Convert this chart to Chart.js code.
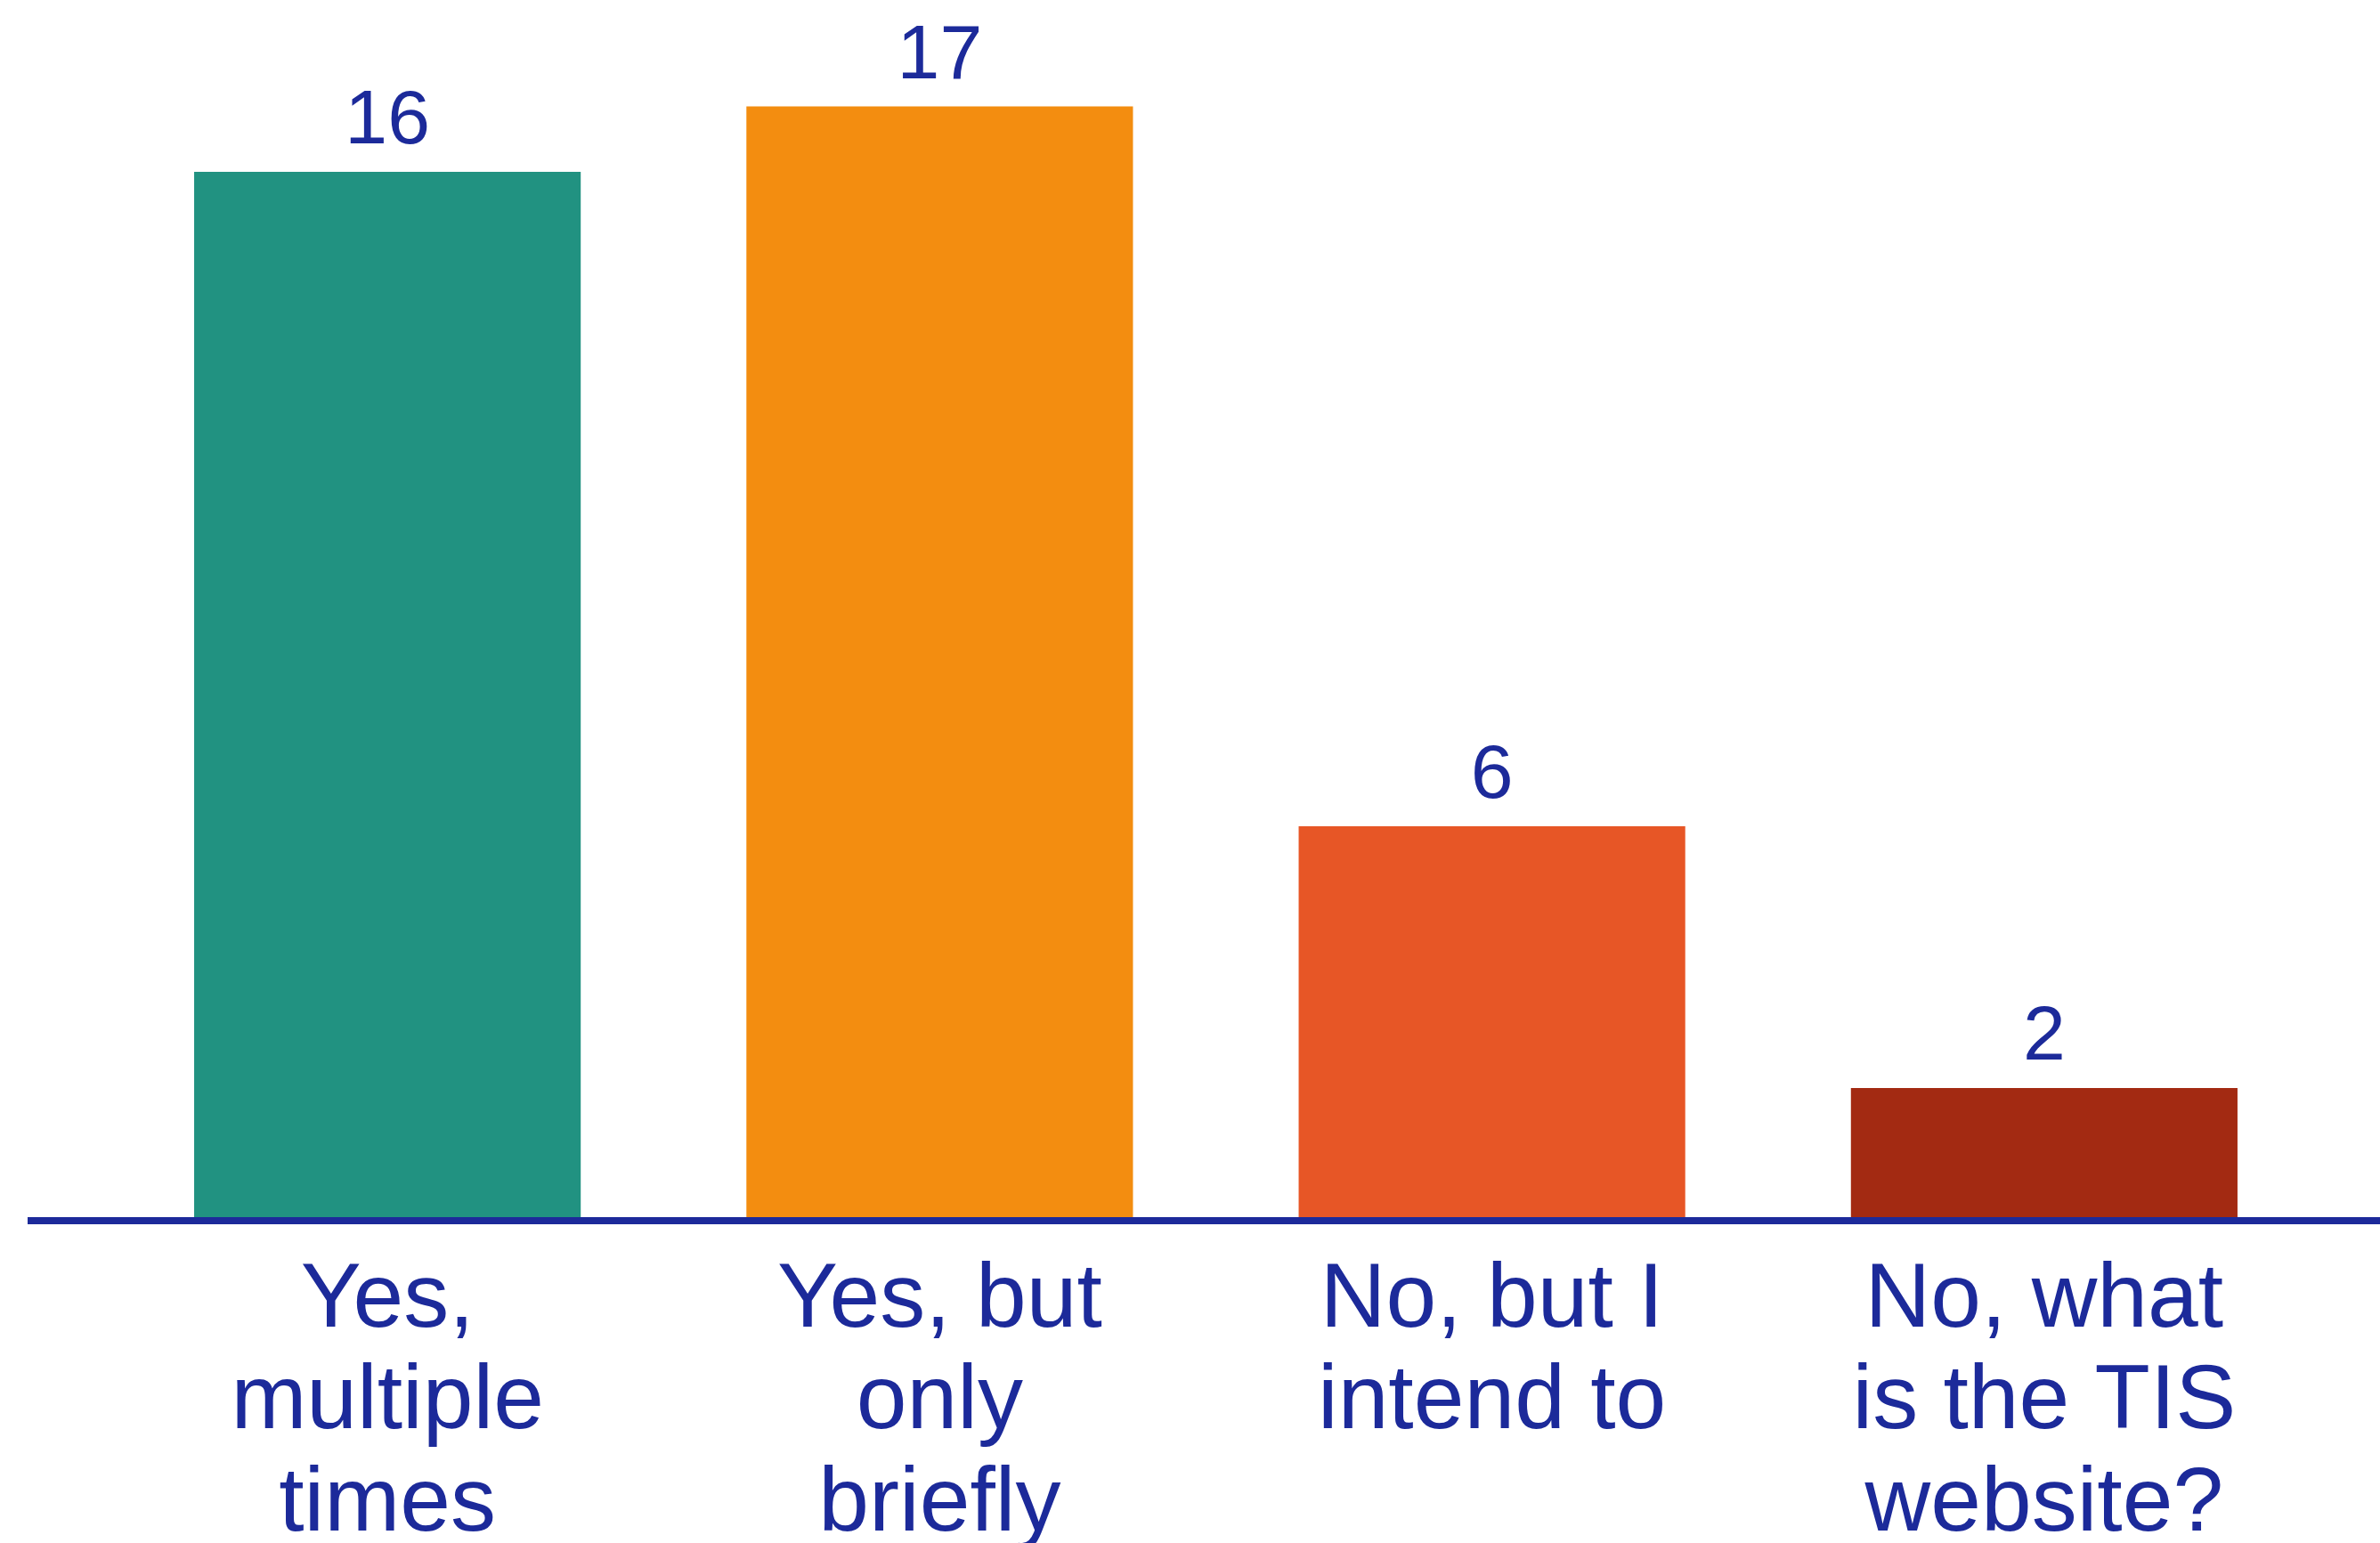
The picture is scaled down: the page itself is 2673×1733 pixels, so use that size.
<!DOCTYPE html>
<html>
<head>
<meta charset="utf-8">
<script src="https://cdn.jsdelivr.net/npm/chart.js@4"></script>
<style>
  html, body { margin: 0; padding: 0; background: #ffffff; }
  #chart-container { width: 2673px; height: 1733px; }
</style>
</head>
<body>
<div id="chart-container">
  <canvas id="answers" width="2673" height="1733"></canvas>
</div>
<script>
const categories = [
  ['Yes,', 'multiple', 'times'],
  ['Yes, but', 'only', 'briefly'],
  ['No, but I', 'intend to'],
  ['No, what', 'is the TIS', 'website?']
]
const answerCounts = [16, 17, 6, 2]
const barColors = ['#219281', '#f38d10', '#e75626', '#a32a12']

const inkBlue = '#1c2a9a'
const fontFamily = '"Liberation Sans", Arial, sans-serif'

// value above every bar, placed from the bar element itself
const valueLabels = {
  id: 'valueLabels',
  afterDatasetsDraw(chart) {
    const { ctx } = chart
    const meta = chart.getDatasetMeta(0)
    ctx.save()
    ctx.fillStyle = inkBlue
    ctx.font = `86px ${fontFamily}`
    ctx.textAlign = 'center'
    ctx.textBaseline = 'alphabetic'
    meta.data.forEach((bar, i) => {
      ctx.fillText(String(answerCounts[i]), bar.x, bar.y - 32)
    })
    ctx.restore()
  }
}

// base line runs almost edge to edge, wider than the plot area
const baseLine = {
  id: 'baseLine',
  afterDatasetsDraw(chart) {
    const { ctx, scales: { y } } = chart
    const yPos = y.getPixelForValue(0) + 2
    ctx.save()
    ctx.strokeStyle = inkBlue
    ctx.lineWidth = 8
    ctx.beginPath()
    ctx.moveTo(31, yPos)
    ctx.lineTo(chart.width, yPos)
    ctx.stroke()
    ctx.restore()
  }
}

new Chart(document.getElementById('answers'), {
  type: 'bar',
  data: {
    labels: categories,
    datasets: [{
      data: answerCounts,
      backgroundColor: barColors,
      borderWidth: 0,
      barPercentage: 0.7,
      categoryPercentage: 1
    }]
  },
  options: {
    responsive: false,
    animation: false,
    devicePixelRatio: 1,
    layout: { padding: { top: 46, left: 125, right: 67, bottom: 0 } },
    plugins: {
      legend: { display: false },
      tooltip: { enabled: false }
    },
    scales: {
      x: {
        grid: { display: false },
        border: { display: false },
        ticks: {
          color: inkBlue,
          padding: 28,
          maxRotation: 0,
          autoSkip: false,
          font: { family: fontFamily, size: 102, lineHeight: 1.12 }
        },
        afterFit: (scale) => { scale.height = 364 }
      },
      y: {
        display: false,
        min: 0,
        max: 18
      }
    }
  },
  plugins: [valueLabels, baseLine]
})
</script>
</body>
</html>
